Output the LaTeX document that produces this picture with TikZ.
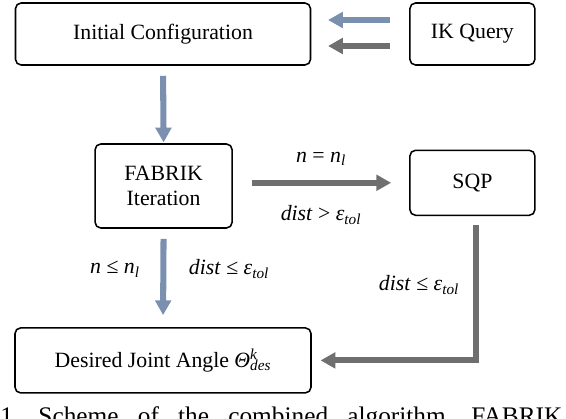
\documentclass[tikz,border=0pt]{standalone}
\usepackage{fontspec}
\setmainfont{Liberation Serif}
\usepackage{xcolor}
\definecolor{fabBleu}{HTML}{7B8FAF}
\definecolor{fabGris}{HTML}{6F6F6F}
\usetikzlibrary{arrows.meta, positioning}
\newcommand{\sousIt}[1]{\textsubscript{\textit{#1}}}
\tikzset{
  %% boxes: one weight for every step of the scheme
  bloc/.style        = {draw=black, line width=1.1pt, rounded corners=4pt,
                        align=center, inner sep=3pt,
                        font=\fontsize{15.5}{18}\selectfont},
  %% arrows: blue for the FABRIK path, grey for the SQP path
  flecheBleue/.style = {-{Triangle[length=10.5pt, width=11pt]}, draw=fabBleu,
                        line width=4.3pt},
  flecheGrise/.style = {-{Triangle[length=10.5pt, width=11pt]}, draw=fabGris,
                        line width=4.3pt},
  etiquette/.style   = {font=\fontsize{15.5}{18}\selectfont, inner sep=1pt},
}

\begin{document}
\frenchspacing
\begin{tikzpicture}[x=1cm, y=1cm]
\useasboundingbox (0, 0) rectangle (14.15, 10.45);

\node[bloc, minimum width=7.375cm, minimum height=1.55cm] (init) at (4.075, 9.6)
     {Initial Configuration};
\node[bloc, minimum width=3.125cm, minimum height=1.55cm] (ik) at (11.81, 9.6)
     {IK Query};
\node[bloc, minimum width=3.425cm, minimum height=2.1cm] (fab) at (4.09, 5.8)
     {FABRIK\\Iteration};
\node[bloc, minimum width=3.125cm, minimum height=1.625cm] (sqp) at (11.81, 5.88)
     {SQP};
\node[bloc, minimum width=7.4cm, minimum height=1.625cm] (des) at (4.075, 1.44)
     {Desired Joint Angle
      \textit{Θ}\rlap{\textsuperscript{\textit{k}}}\sousIt{des}};

\draw[flecheBleue, shorten <=0.47cm, shorten >=0.42cm]
     ([yshift=0.35cm]ik.west) -- ([yshift=0.35cm]init.east);
\draw[flecheGrise, shorten <=0.47cm, shorten >=0.42cm]
     ([yshift=-0.3cm]ik.west) -- ([yshift=-0.3cm]init.east);
\draw[flecheBleue, shorten <=0.25cm, shorten >=0.02cm] (init.south) -- (fab.north);
\draw[flecheGrise, shorten <=0.47cm, shorten >=0.45cm] (fab.east |- sqp.west) -- (sqp.west);
\draw[flecheBleue, shorten <=0.25cm, shorten >=0.3cm] (fab.south) -- (des.north);
\draw[flecheGrise, shorten <=0.22cm, shorten >=0.22cm]
     ([xshift=0.08cm]sqp.south) |- (des.east);

\node[etiquette] (lblN) at (8.025, 6.475) {\textit{n} = \textit{n}\sousIt{l}};
\node[etiquette] (lblDist) at (8.025, 5.075) {\textit{dist} > \textit{ε}\sousIt{tol}};
\node[etiquette] (lblNle) at (2.875, 3.725) {\textit{n} ≤ \textit{n}\sousIt{l}};
\node[etiquette] (lblDistle) at (5.725, 3.725) {\textit{dist} ≤ \textit{ε}\sousIt{tol}};
\node[etiquette] (lblDistSqp) at (10.475, 3.325) {\textit{dist} ≤ \textit{ε}\sousIt{tol}};

\node[anchor=base west, inner sep=0pt, font=\fontsize{18}{20}\selectfont] (legende)
     at (0, -0.15) {\makebox[14.05cm][s]{1. Scheme of the combined algorithm. FABRIK}};

\end{tikzpicture}
\end{document}
